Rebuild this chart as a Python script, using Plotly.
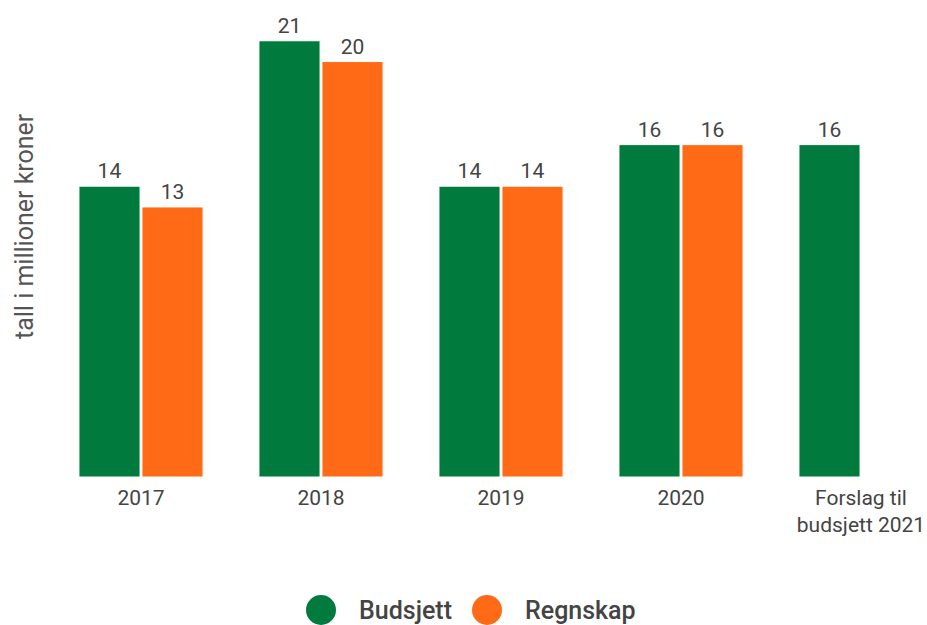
import plotly.graph_objects as go

# Data
categories = ["2017", "2018", "2019", "2020", "Forslag til<br>budsjett 2021"]
budsjett = [14, 21, 14, 16, 16]
regnskap = [13, 20, 14, 16, None]
series_names = ["Budsjett", "Regnskap"]
colors = ["#007a3d", "#ff6a16"]

FONT = "Roboto"
TEXT_COLOR = "#444444"

fig = go.Figure()
for name, vals, col in zip(series_names, [budsjett, regnskap], colors):
    fig.add_trace(go.Bar(
        name=name,
        x=categories,
        y=vals,
        marker=dict(color=col, line=dict(color="white", width=1)),
        text=[None if v is None else f"{v:g}" for v in vals],
        textposition="outside",
        textfont=dict(family=FONT, size=21, color=TEXT_COLOR),
        cliponaxis=False,
        showlegend=False,
    ))

# Custom legend: large circles with labels, centred under the chart
legend_x = [321, 487]
legend_text_x = [357, 523]
legend_y = 610
W, H = 927, 625
L, R, T, B = 51, 0, 20, 148
PW, PH = W - L - R, H - T - B
shapes = []
annotations = []
for i, (name, col) in enumerate(zip(series_names, colors)):
    shapes.append(dict(
        type="circle", xref="paper", yref="paper",
        xsizemode="pixel", ysizemode="pixel",
        xanchor=(legend_x[i] - L) / PW,
        yanchor=(H - B - legend_y) / PH,
        x0=-15, x1=15, y0=-15, y1=15,
        fillcolor=col, line=dict(width=0),
    ))
    annotations.append(dict(
        text=name, xref="paper", yref="paper",
        x=(legend_text_x[i] - L) / PW,
        y=(H - B - legend_y) / PH,
        xanchor="left", yanchor="middle", showarrow=False,
        font=dict(family=FONT, size=25, color=TEXT_COLOR, weight=500),
    ))

# Y axis title
annotations.append(dict(
    text="tall i millioner kroner", xref="paper", yref="paper",
    x=(25 - L) / PW, y=(H - B - 226) / PH,
    xanchor="center", yanchor="middle", showarrow=False, textangle=-90,
    font=dict(family=FONT, size=25, color="#555555"),
))

fig.update_layout(
    width=W, height=H,
    margin=dict(l=L, r=R, t=T, b=B),
    barmode="group",
    bargap=0.3,
    bargroupgap=0.03,
    plot_bgcolor="white",
    paper_bgcolor="white",
    font=dict(family=FONT, color=TEXT_COLOR),
    shapes=shapes,
    annotations=annotations,
    xaxis=dict(
        range=[-0.5, 4.3667],
        showgrid=False, showline=False, zeroline=False, ticks="",
        tickfont=dict(family=FONT, size=21, color=TEXT_COLOR),
        ticklabelstandoff=6,
    ),
    yaxis=dict(
        range=[0, 22],
        showgrid=False, showline=False, zeroline=False,
        showticklabels=False, ticks="",
    ),
)

fig.write_html("out.html")
